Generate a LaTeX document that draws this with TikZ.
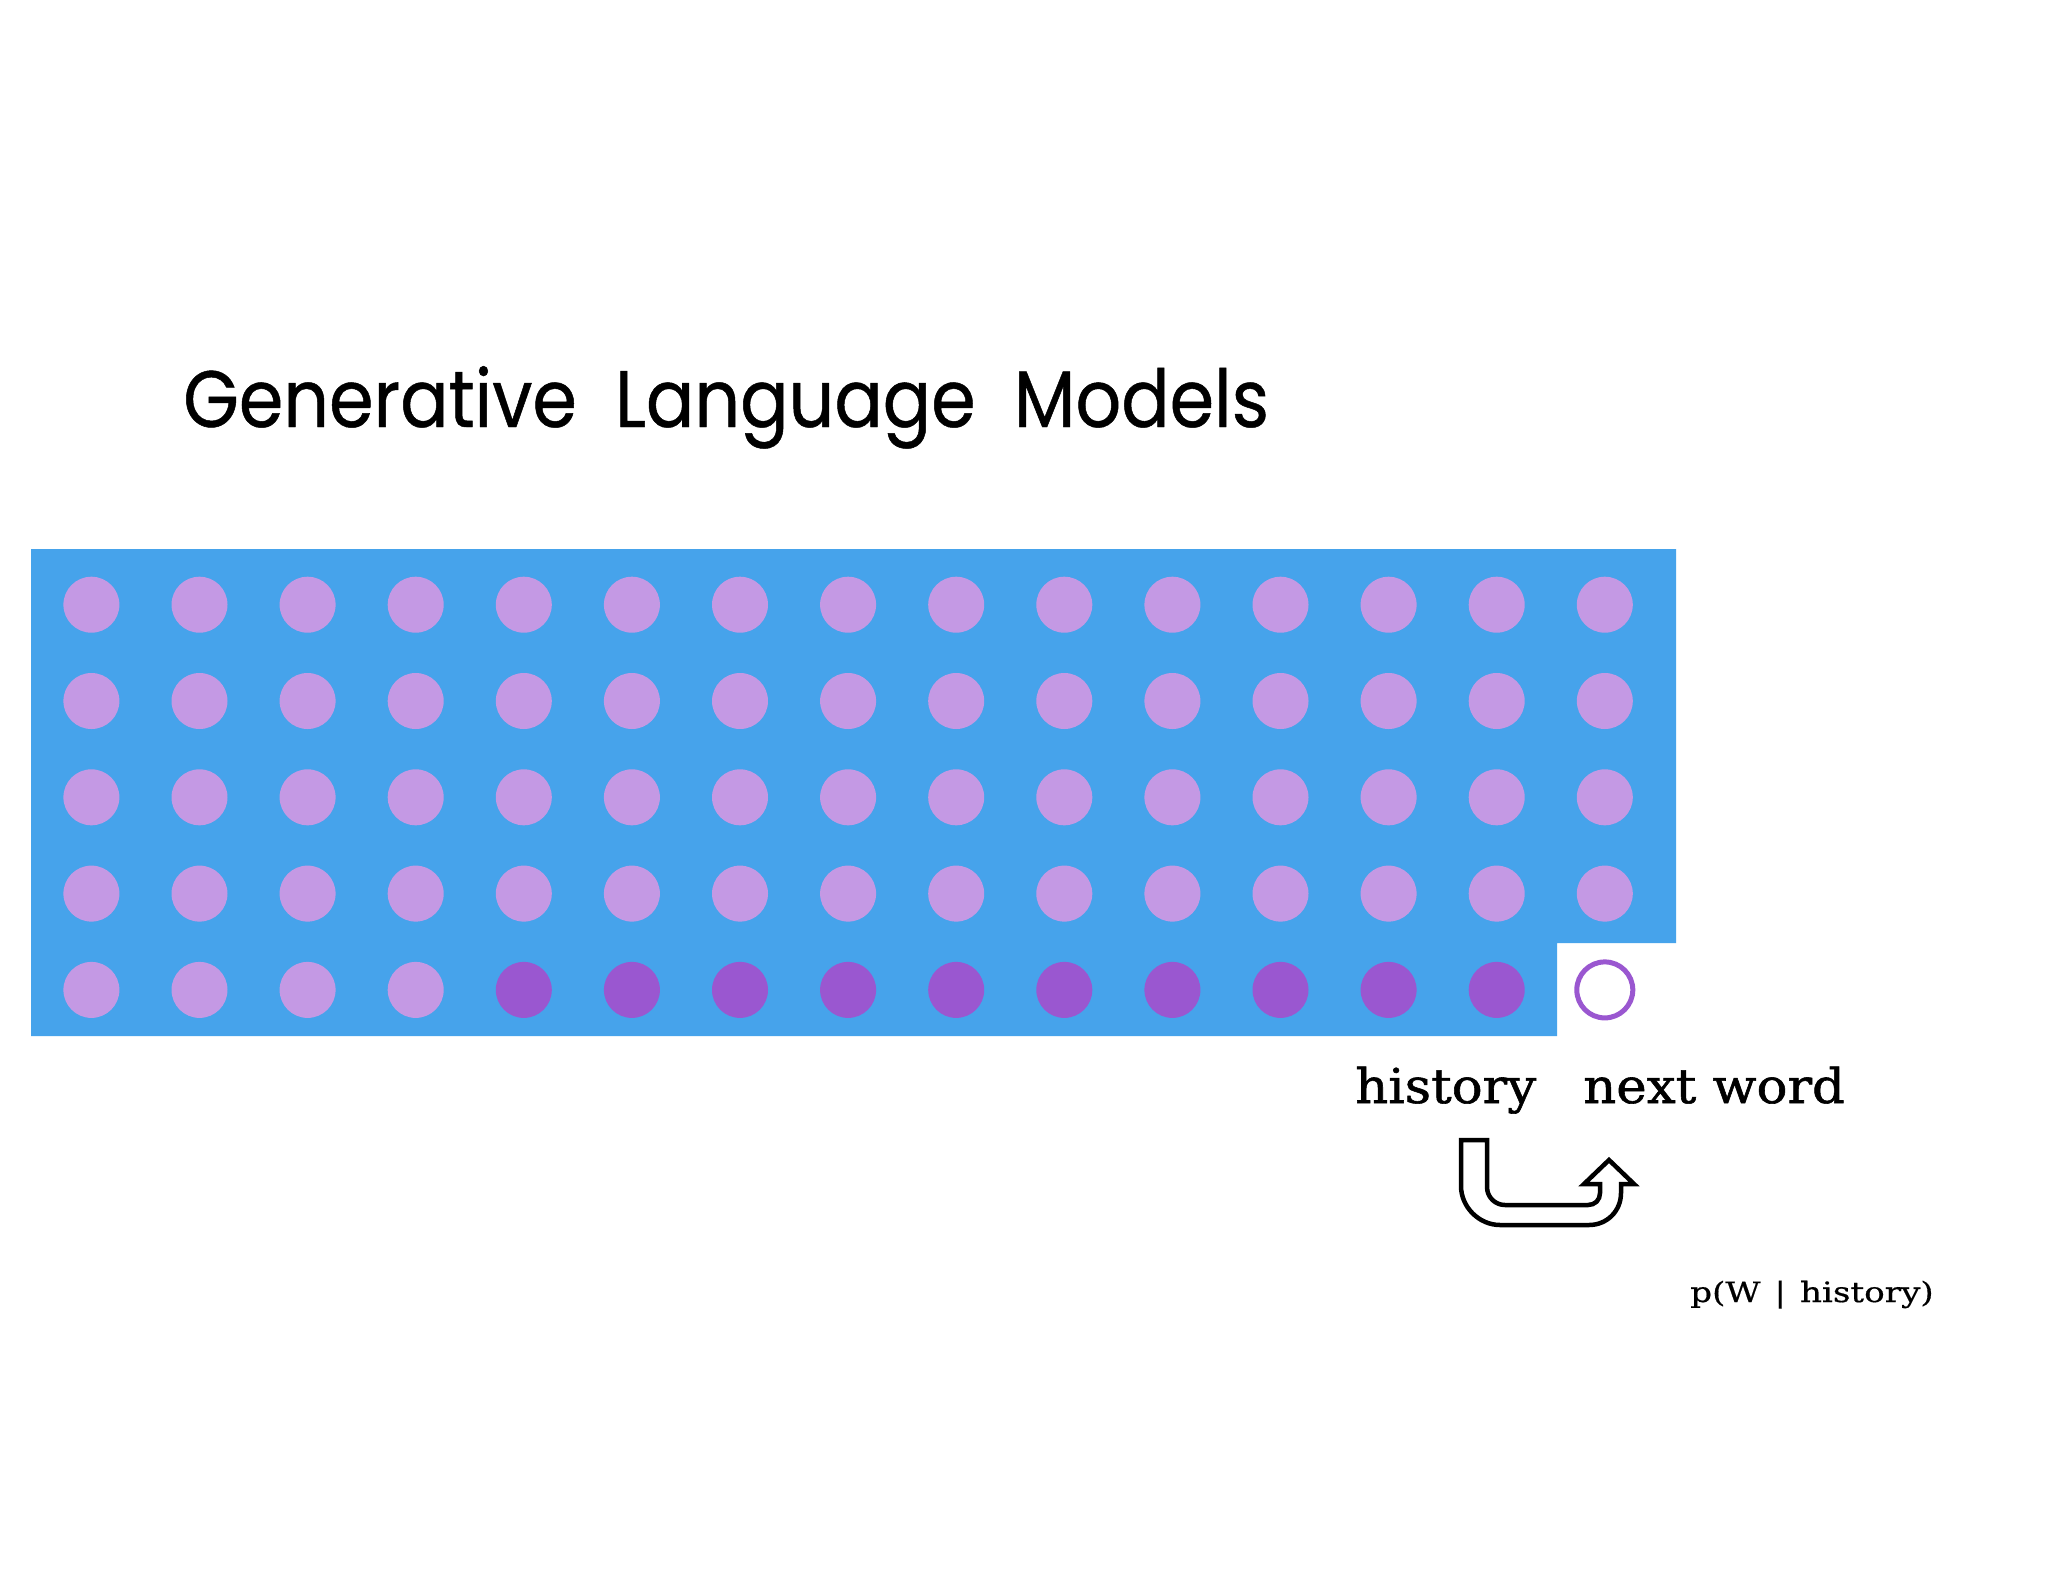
\documentclass[tikz,border=0pt]{standalone}
\usepackage{fontspec}
\newfontfamily\titlefont[FakeStretch=0.895,FakeBold=0.6]{Poppins}
\newfontfamily\slabfont[FakeStretch=1.07,FakeBold=1.2]{DejaVu Serif}
\newfontfamily\smallslab[FakeStretch=1.22,FakeBold=0.6]{DejaVu Serif}
\definecolor{panelblue}{RGB}{70,163,235}
\definecolor{lightdot}{RGB}{196,153,228}
\definecolor{darkdot}{RGB}{154,87,208}
\tikzset{
  dotlight/.style={circle,fill=lightdot,inner sep=0pt,minimum size=56pt},
  dotdark/.style={circle,fill=darkdot,inner sep=0pt,minimum size=56pt},
  dotopen/.style={circle,draw=darkdot,line width=5pt,fill=white,inner sep=0pt,minimum size=56pt},
  lbl/.style={inner sep=0pt,anchor=base west}
}
\begin{document}
\begin{tikzpicture}[x=1pt,y=-1pt]
\useasboundingbox[fill=white] (0,0) rectangle (2048,1582);
% title
\node[lbl,font=\titlefont\fontsize{80}{90}\selectfont] (title) at (183,427) {Generative\ \ Language\ \ Models};
% blue panel
\fill[panelblue] (31,549) -- (1676,549) -- (1676,943) -- (1557,943) -- (1557,1036) -- (31,1036) -- cycle;
% dots
\foreach \r in {1,...,4}{
  \foreach \c in {1,...,15}{
    \node[dotlight] (d-\r-\c) at ({91.4+(\c-1)*108.1},{604.7+(\r-1)*96.3}) {};
  }
}
\foreach \c in {1,...,4}{
  \node[dotlight] (d-5-\c) at ({91.4+(\c-1)*108.1},989.9) {};
}
\foreach \c in {5,...,14}{
  \node[dotdark] (d-5-\c) at ({91.4+(\c-1)*108.1},989.9) {};
}
\node[dotopen] (d-5-15) at ({91.4+14*108.1},989.9) {};
% labels
\node[lbl,font=\slabfont\fontsize{48}{56}\selectfont] (hist) at (1355,1103) {history};
\node[lbl,font=\slabfont\fontsize{48}{56}\selectfont] (next) at (1583,1103) {next word};
\node[lbl,font=\smallslab\fontsize{28}{32}\selectfont] (prob) at (1690,1302) {p(W\hspace{14pt}|\hspace{14pt}history)};
% U-turn arrow
\draw[line width=4.5pt,fill=white,line join=miter]
  (1461,1140) -- (1487,1140) -- (1487,1187)
  .. controls (1487,1197) and (1495,1205) .. (1505,1205)
  -- (1588,1205)
  .. controls (1595,1205) and (1600,1200) .. (1600,1193)
  -- (1600,1184) -- (1584,1184) -- (1609,1160) -- (1634,1184) -- (1621,1184)
  -- (1621,1193)
  .. controls (1621,1211) and (1607,1225) .. (1589,1225)
  -- (1500,1225)
  .. controls (1479,1225) and (1461,1207) .. (1461,1186)
  -- cycle;
\end{tikzpicture}
\end{document}
